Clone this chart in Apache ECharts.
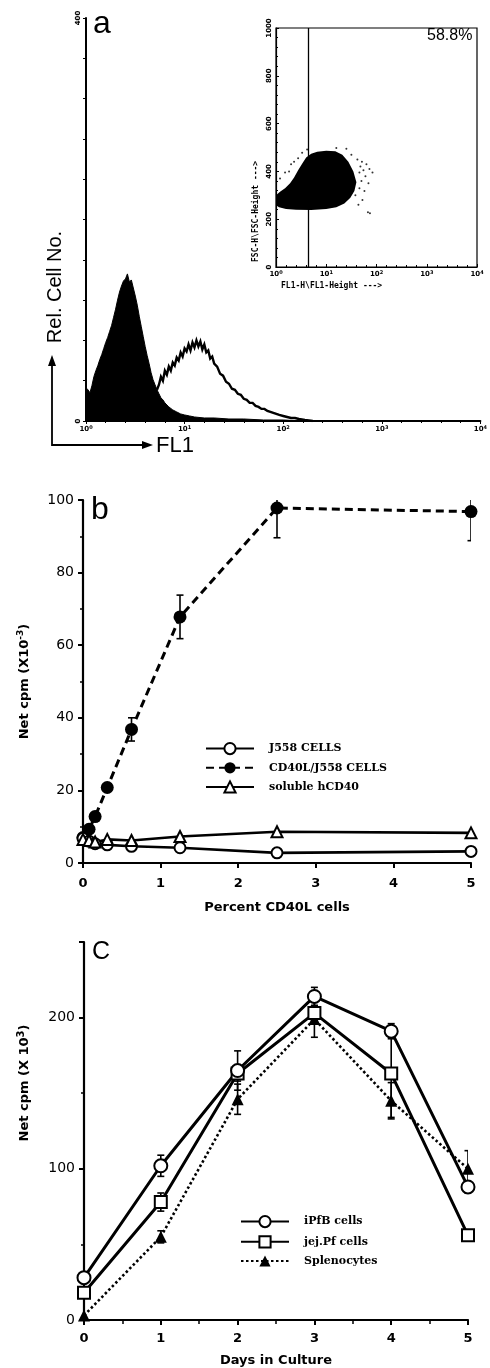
<!DOCTYPE html>
<html>
<head>
<meta charset="utf-8">
<script src="https://cdn.jsdelivr.net/npm/echarts@6/dist/echarts.min.js"></script>
<style>
html,body{margin:0;padding:0;background:#fff}
#main{width:490px;height:1368px}
</style>
</head>
<body>
<div id="main"></div>
<script>
// ---- panel a : FL1 histograms (x = decades of FL1) ----
var negDecade = [0.00,0.02,0.04,0.06,0.08,0.10,0.12,0.14,0.16,0.18,0.20,0.22,0.24,0.26,0.28,0.30,0.32,0.34,0.36,0.38,0.40,0.42,0.44,0.46,0.48,0.50,0.52,0.54,0.56,0.58,0.60,0.62,0.64,0.66,0.68,0.70,0.72,0.74,0.76,0.78,0.80,0.84,0.88,0.92,0.96,1.00,1.05,1.10,1.20,1.30,1.45,1.60,1.80,2.00,2.20];
var negCount  = [33,31,28,35,44,50,55,61,66,72,78,83,89,95,103,111,120,128,134,139,141,146,138,140,132,124,115,104,94,84,74,65,57,48,41,36,31,27,23,21,18,14,11,9,7,6,5,4,3,3,2,2,1,1,0];
var posDecade = [0.72,0.74,0.76,0.78,0.80,0.82,0.84,0.86,0.88,0.90,0.92,0.94,0.96,0.98,1.00,1.02,1.04,1.06,1.08,1.10,1.12,1.14,1.16,1.18,1.20,1.22,1.24,1.26,1.28,1.30,1.33,1.36,1.39,1.42,1.45,1.48,1.51,1.54,1.57,1.60,1.63,1.66,1.69,1.72,1.75,1.78,1.81,1.84,1.87,1.90,1.93,1.96,2.00,2.04,2.08,2.12,2.16,2.22,2.30];
var posCount  = [31,36,44,40,50,46,54,50,58,55,63,60,68,64,72,69,76,70,78,73,80,74,79,71,76,68,70,62,64,57,54,47,45,39,37,32,31,27,26,22,21,18,18,15,14,12,12,10,9,8,7,6,5,4,3,3,2,1,0];

// inset dot plot (FL1 decades vs FSC)
var cloudDec = [0.00,0.08,0.18,0.28,0.36,0.44,0.52,0.60,0.70,0.82,1.00,1.18,1.32,1.44,1.54,1.60,1.56,1.48,1.36,1.20,1.00,0.70,0.40,0.20,0.06,0.00];
var cloudFsc = [300,315,330,350,375,405,432,458,474,482,486,484,470,440,400,355,318,290,266,250,243,239,240,243,250,258];
var dotDec = [1.62,1.68,1.74,1.80,1.86,1.92,1.70,1.78,1.66,1.84,1.58,1.50,1.40,1.20,0.62,0.52,0.44,0.30,0.18,0.08,1.72,1.87,1.83,1.64,1.76,1.66,1.71,0.26,0.36];
var dotFsc = [450,420,405,430,410,395,360,380,330,350,300,470,495,498,492,478,455,430,395,370,280,225,229,260,318,395,440,400,440];
var gateDec = 0.64;
var gatePct = '58.8%';

// ---- panel b ----
var pctCells = [0, 0.078, 0.156, 0.3125, 0.625, 1.25, 2.5, 5];
var j558   = [6.8, 6.0, 5.3, 5.0, 4.6, 4.2, 2.8, 3.2];
var cd40l  = [7.0, 9.3, 12.8, 20.8, 36.8, 67.8, 97.8, 96.8];
var cd40lErr = [0, 0, 0, 0, 3.2, 6, 8.2, 8];
var hcd40  = [6.5, 6.2, 5.8, 6.5, 6.2, 7.3, 8.6, 8.3];

// ---- panel c ----
var days = [0, 1, 2, 3, 4, 5];
var ipfb = [28, 102, 165, 214, 191, 88];
var ipfbErr = [0, 7, 13, 6, 5, 4];
var jejpf = [18, 78, 163, 203, 163, 56];
var jejpfErr = [0, 6, 5, 5, 29, 3];
var spleno = [3, 55, 146, 199, 145, 100];
var splenoErr = [0, 4, 10, 12, 12, 12];

var black = '#000';
var sans = '"Liberation Sans", Arial, sans-serif';
var geo = '"DejaVu Sans", sans-serif';
var serif = '"DejaVu Serif", serif';

function pairs(xs, ys) {
  return xs.map(function (x, i) { return [x, ys[i]]; });
}

function errorBars(xs, ys, errs, ax) {
  var d = [];
  for (var i = 0; i < xs.length; i++) {
    if (errs[i] > 0) d.push([xs[i], ys[i] - errs[i], ys[i] + errs[i]]);
  }
  return {
    type: 'custom', xAxisIndex: ax, yAxisIndex: ax, clip: true, z: 1, silent: true,
    encode: {x: 0, y: [1, 2]},
    data: d,
    renderItem: function (params, api) {
      var lo = api.coord([api.value(0), api.value(1)]);
      var hi = api.coord([api.value(0), api.value(2)]);
      var st = {stroke: black, lineWidth: 1.6};
      return {type: 'group', children: [
        {type: 'line', shape: {x1: lo[0], y1: lo[1], x2: hi[0], y2: hi[1]}, style: st},
        {type: 'line', shape: {x1: lo[0] - 3.5, y1: lo[1], x2: lo[0] + 3.5, y2: lo[1]}, style: st},
        {type: 'line', shape: {x1: hi[0] - 3.5, y1: hi[1], x2: hi[0] + 3.5, y2: hi[1]}, style: st}
      ]};
    }
  };
}

var decadeLabel = {
  fontSize: 7, fontFamily: geo, fontWeight: 'bold', color: black,
  formatter: function (v) { return '10{s|' + v + '}'; },
  rich: {s: {fontSize: 5, verticalAlign: 'top', fontWeight: 'bold', padding: [0, 0, 4, 0]}}
};

var chart = echarts.init(document.getElementById('main'));

var option = {
  animation: false,
  backgroundColor: '#fff',
  grid: [
    {left: 86, top: 18, width: 400, height: 403},
    {left: 276, top: 28, width: 201, height: 239, show: true, borderColor: black, borderWidth: 1.2},
    {left: 83, top: 500, width: 388, height: 363},
    {left: 84, top: 942, width: 384, height: 378}
  ],
  xAxis: [
    {gridIndex: 0, type: 'value', min: 0, max: 4, interval: 1, splitLine: {show: false},
     axisLine: {lineStyle: {color: black, width: 2}},
     axisTick: {length: 3, lineStyle: {color: black}},
     minorTick: {show: true, splitNumber: 5, length: 2, lineStyle: {color: black}},
     axisLabel: Object.assign({margin: 4}, decadeLabel)},
    {gridIndex: 1, type: 'value', min: 0, max: 4, interval: 1, splitLine: {show: false},
     axisLine: {lineStyle: {color: black, width: 1.2}},
     axisTick: {inside: true, length: 3, lineStyle: {color: black}},
     minorTick: {show: true, splitNumber: 5, length: 2, lineStyle: {color: black}},
     axisLabel: Object.assign({margin: 3}, decadeLabel)},
    {gridIndex: 2, type: 'value', min: 0, max: 5, interval: 1, splitLine: {show: false},
     axisLine: {lineStyle: {color: black, width: 2.2}},
     axisTick: {length: 5, lineStyle: {color: black, width: 2}},
     axisLabel: {margin: 14, color: black, fontFamily: geo, fontWeight: 'bold', fontSize: 13},
     name: 'Percent CD40L cells', nameLocation: 'middle', nameGap: 38,
     nameTextStyle: {color: black, fontFamily: geo, fontWeight: 'bold', fontSize: 13}},
    {gridIndex: 3, type: 'value', min: 0, max: 5, interval: 1, splitLine: {show: false},
     axisLine: {lineStyle: {color: black, width: 2.2}},
     axisTick: {length: 5, lineStyle: {color: black, width: 2}},
     minorTick: {show: true, splitNumber: 2, length: 4, lineStyle: {color: black, width: 1.5}},
     axisLabel: {margin: 12, color: black, fontFamily: geo, fontWeight: 'bold', fontSize: 13},
     name: 'Days in Culture', nameLocation: 'middle', nameGap: 34,
     nameTextStyle: {color: black, fontFamily: geo, fontWeight: 'bold', fontSize: 13}}
  ],
  yAxis: [
    {gridIndex: 0, type: 'value', min: 0, max: 400, interval: 40, splitLine: {show: false},
     axisLine: {show: true, lineStyle: {color: black, width: 2}},
     axisTick: {show: true, length: 3, lineStyle: {color: black}},
     axisLabel: {rotate: 90, margin: 4, fontSize: 7, fontFamily: geo, fontWeight: 'bold', color: black,
       formatter: function (v) { return (v === 0 || v === 400) ? String(v) : ''; }}},
    {gridIndex: 1, type: 'value', min: 0, max: 1000, interval: 200, splitLine: {show: false},
     axisLine: {show: true, lineStyle: {color: black, width: 1.2}},
     axisTick: {show: true, inside: true, length: 3, lineStyle: {color: black}},
     minorTick: {show: true, splitNumber: 5, length: 2, lineStyle: {color: black}},
     axisLabel: {rotate: 90, margin: 3, fontSize: 7, fontFamily: geo, fontWeight: 'bold', color: black,
       formatter: function (v) { return String(v); }}},
    {gridIndex: 2, type: 'value', min: 0, max: 100, interval: 20, splitLine: {show: false},
     axisLine: {show: true, lineStyle: {color: black, width: 2.2}},
     axisTick: {show: true, length: 5, lineStyle: {color: black, width: 2}},
     minorTick: {show: true, splitNumber: 2, length: 3, lineStyle: {color: black, width: 1.5}},
     axisLabel: {margin: 9, color: black, fontFamily: geo, fontSize: 14},
     name: 'Net cpm (X10{sup|-3})', nameLocation: 'middle', nameGap: 50, nameRotate: 90,
     nameTextStyle: {color: black, fontFamily: geo, fontWeight: 'bold', fontSize: 13,
       rich: {sup: {fontSize: 9, fontFamily: geo, fontWeight: 'bold', verticalAlign: 'top', padding: [0, 0, 8, 0]}}}},
    {gridIndex: 3, type: 'value', min: 0, max: 250, interval: 100, splitLine: {show: false},
     axisLine: {show: true, lineStyle: {color: black, width: 2.2}},
     axisTick: {show: true, length: 5, lineStyle: {color: black, width: 2}},
     minorTick: {show: true, splitNumber: 2, length: 3, lineStyle: {color: black, width: 1.5}},
     axisLabel: {margin: 9, color: black, fontFamily: geo, fontSize: 14, showMaxLabel: false,
       formatter: function (v) { return v === 250 ? '' : String(v); }}}
  ],
  legend: [
    {data: ['J558 CELLS', 'CD40L/J558 CELLS', 'soluble hCD40'], left: 200, top: 737, orient: 'vertical',
     itemWidth: 48, itemHeight: 14, itemGap: 7, selectedMode: false,
     textStyle: {fontFamily: serif, fontWeight: 'bold', fontSize: 11, color: black, padding: [0, 0, 0, 10]}},
    {data: ['iPfB cells', 'jej.Pf cells', 'Splenocytes'], left: 235, top: 1210, orient: 'vertical',
     itemWidth: 48, itemHeight: 14, itemGap: 7, selectedMode: false,
     textStyle: {fontFamily: serif, fontWeight: 'bold', fontSize: 11, color: black, padding: [0, 0, 0, 10]}}
  ],
  series: [
    // panel a
    {name: 'neg', type: 'line', xAxisIndex: 0, yAxisIndex: 0, symbol: 'none', silent: true,
     data: pairs(negDecade, negCount),
     lineStyle: {color: black, width: 1}, areaStyle: {color: black, opacity: 1}},
    {name: 'pos', type: 'line', xAxisIndex: 0, yAxisIndex: 0, symbol: 'none', silent: true,
     data: pairs(posDecade, posCount),
     lineStyle: {color: black, width: 2.4, join: 'miter'}},
    // inset
    {name: 'cloud', type: 'custom', xAxisIndex: 1, yAxisIndex: 1, silent: true, data: [[0, 0]],
     renderItem: function (params, api) {
       var pts = cloudDec.map(function (d, i) { return api.coord([d, cloudFsc[i]]); });
       return {type: 'polygon', shape: {points: pts}, style: {fill: black}};
     },
     markLine: {silent: true, symbol: 'none', label: {show: false},
       lineStyle: {color: black, type: 'solid', width: 1.3}, data: [{xAxis: gateDec}]}},
    {name: 'dots', type: 'scatter', xAxisIndex: 1, yAxisIndex: 1, silent: true, symbolSize: 2,
     itemStyle: {color: black}, data: pairs(dotDec, dotFsc)},
    // panel b
    {name: 'CD40L/J558 CELLS', type: 'line', xAxisIndex: 2, yAxisIndex: 2, z: 2,
     data: pairs(pctCells, cd40l), symbol: 'circle', symbolSize: 13,
     lineStyle: {color: black, width: 3, type: [8, 5]}, itemStyle: {color: black}},
    errorBars(pctCells, cd40l, cd40lErr, 2),
    {name: 'J558 CELLS', type: 'line', xAxisIndex: 2, yAxisIndex: 2, z: 3,
     data: pairs(pctCells, j558), symbol: 'circle', symbolSize: 11,
     lineStyle: {color: black, width: 2.6}, itemStyle: {color: '#fff', borderColor: black, borderWidth: 2}},
    {name: 'soluble hCD40', type: 'line', xAxisIndex: 2, yAxisIndex: 2, z: 3,
     data: pairs(pctCells, hcd40), symbol: 'triangle', symbolSize: 11,
     lineStyle: {color: black, width: 2.6}, itemStyle: {color: '#fff', borderColor: black, borderWidth: 2}},
    // panel c
    {name: 'Splenocytes', type: 'line', xAxisIndex: 3, yAxisIndex: 3, z: 2,
     data: pairs(days, spleno), symbol: 'triangle', symbolSize: 12,
     lineStyle: {color: black, width: 2.6, type: [2.5, 2.5]}, itemStyle: {color: black}},
    errorBars(days, spleno, splenoErr, 3),
    {name: 'jej.Pf cells', type: 'line', xAxisIndex: 3, yAxisIndex: 3, z: 3,
     data: pairs(days, jejpf), symbol: 'rect', symbolSize: 12,
     lineStyle: {color: black, width: 3}, itemStyle: {color: '#fff', borderColor: black, borderWidth: 2}},
    errorBars(days, jejpf, jejpfErr, 3),
    {name: 'iPfB cells', type: 'line', xAxisIndex: 3, yAxisIndex: 3, z: 3,
     data: pairs(days, ipfb), symbol: 'circle', symbolSize: 13,
     lineStyle: {color: black, width: 3}, itemStyle: {color: '#fff', borderColor: black, borderWidth: 2}},
    errorBars(days, ipfb, ipfbErr, 3)
  ],
  graphic: [
    {type: 'text', left: 93, top: 8, style: {text: 'a', font: '32px ' + sans, fill: black}},
    {type: 'text', left: 91, top: 494, style: {text: 'b', font: '32px ' + sans, fill: black}},
    {type: 'text', left: 92, top: 940, style: {text: 'C', font: '25px ' + sans, fill: black}},
    {type: 'text', x: 427, y: 36, style: {text: gatePct, font: '16px ' + sans, fill: black, textVerticalAlign: 'middle'}},
    {type: 'text', x: 281, y: 286, style: {text: 'FL1-H\\FL1-Height --->', font: 'bold 8px "DejaVu Sans Mono", monospace', fill: black, textVerticalAlign: 'middle'}},
    {type: 'text', x: 256, y: 262, rotation: Math.PI / 2, style: {text: 'FSC-H\\FSC-Height --->', font: 'bold 8px "DejaVu Sans Mono", monospace', fill: black, textVerticalAlign: 'middle'}},
    {type: 'text', x: 55, y: 287, rotation: Math.PI / 2, style: {text: 'Rel. Cell No.', font: '20px ' + sans, fill: black, textAlign: 'center', textVerticalAlign: 'middle'}},
    {type: 'polyline', shape: {points: [[52, 364], [52, 445], [144, 445]]}, style: {stroke: black, lineWidth: 1.8, fill: null}},
    {type: 'polygon', shape: {points: [[52, 355], [48, 366], [56, 366]]}, style: {fill: black}},
    {type: 'polygon', shape: {points: [[153, 445], [142, 441], [142, 449]]}, style: {fill: black}},
    {type: 'text', x: 156, y: 446, style: {text: 'FL1', font: '22px ' + sans, fill: black, textVerticalAlign: 'middle'}},
    {type: 'text', x: 25, y: 1083, rotation: Math.PI / 2,
     style: {text: 'Net cpm (X 10{sup|3})', font: 'bold 13px ' + geo, fill: black, textAlign: 'center', textVerticalAlign: 'middle',
       rich: {sup: {font: 'bold 10px ' + geo, verticalAlign: 'top', padding: [0, 0, 8, 0]}}}}
  ]
};

chart.setOption(option);
</script>
</body>
</html>
